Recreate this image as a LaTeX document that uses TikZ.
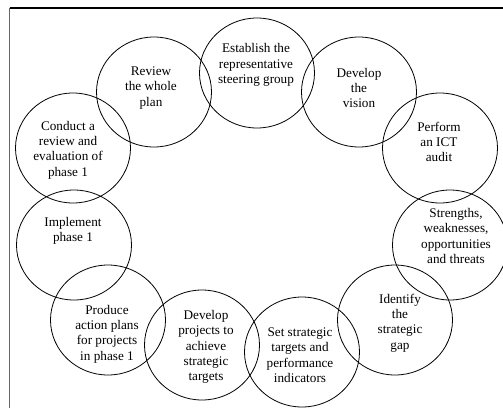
\documentclass[tikz,border=0pt]{standalone}
\usepackage{fontspec}
\setmainfont{Liberation Serif}
\usetikzlibrary{shapes.geometric}
\tikzset{
  bubble/.style={draw=black, line width=0.8pt, ellipse, inner sep=0pt,
    minimum width=115pt, minimum height=110pt},
  caption/.style={align=center, inner sep=0pt,
    font=\fontsize{13.2pt}{15.4pt}\selectfont},
  frameline/.style={line width=1.3pt}
}
\begin{document}
\begin{tikzpicture}[x=1pt, y=-1pt]
\useasboundingbox (0,0) rectangle (503,408);
\clip (0,0) rectangle (503,408);
% outer frame (open to the right and bottom)
\coordinate (ftl) at (9.5,8);
\coordinate (ftr) at (503,8);
\coordinate (fbl) at (9.5,408);
\draw[frameline, black] (ftl) -- (ftr);
\draw[frameline, black!60] (ftl) -- (fbl);

% ring of steps
\node[bubble] (c1)  at (257,73)  {};
\node[bubble] (c2)  at (359,92)  {};
\node[bubble] (c3)  at (440,148) {};
\node[bubble] (c4)  at (450,245) {};
\node[bubble] (c5)  at (395,320) {};
\node[bubble] (c6)  at (302,352) {};
\node[bubble] (c7)  at (202,345) {};
\node[bubble] (c8)  at (108,320) {};
\node[bubble] (c9)  at (74,245)  {};
\node[bubble] (c10) at (73,148)  {};
\node[bubble] (c11) at (154,92)  {};

% step labels
\node[caption] (t1)  at (256,65)  {Establish the\\representative\\steering group};
\node[caption] (t2)  at (359,88)  {Develop\\the\\vision};
\node[caption] (t3)  at (439,142) {Perform\\an ICT\\audit};
\node[caption] (t4)  at (456,236) {Strengths,\\weaknesses,\\opportunities\\and threats};
\node[caption] (t5)  at (400,323) {Identify\\the\\strategic\\gap};
\node[caption] (t6)  at (300,355) {Set strategic\\targets and\\performance\\indicators};
\node[caption] (t7)  at (206,347) {Develop\\projects to\\achieve\\strategic\\targets};
\node[caption] (t8)  at (107,334) {Produce\\action plans\\for projects\\in phase 1};
\node[caption] (t9)  at (73,231)  {Implement\\phase 1};
\node[caption] (t10) at (68,150)  {Conduct a\\review and\\evaluation of\\phase 1};
\node[caption] (t11) at (151,88)  {Review\\the whole\\plan};
\end{tikzpicture}
\end{document}
